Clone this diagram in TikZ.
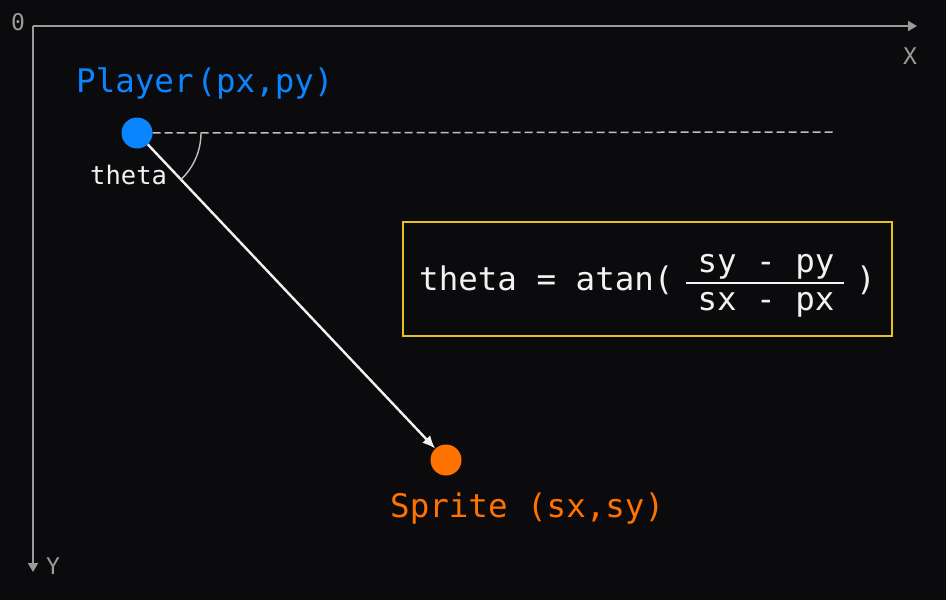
\documentclass[tikz,border=0pt]{standalone}
\usepackage{fontspec}
\usetikzlibrary{arrows.meta,angles}
\newfontfamily\monofam{DejaVu Sans Mono}
\definecolor{bgc}{HTML}{0B0A0C}
\definecolor{axisc}{HTML}{9B9B9B}
\definecolor{pblue}{HTML}{0A85FF}
\definecolor{sorange}{HTML}{FF7200}
\definecolor{ybox}{HTML}{E8C020}
\definecolor{wtext}{HTML}{F2F2F2}
\definecolor{dashc}{HTML}{C0C0C0}
\tikzset{
  axisline/.style={draw=axisc, line width=1.8pt, -{Triangle[length=9pt,width=10pt]}},
  axislabel/.style={text=axisc, inner sep=0, anchor=base west, font=\monofam\fontsize{23}{23}\selectfont},
  pointdot/.style={circle, minimum size=31pt, inner sep=0, draw=none},
  biglabel/.style={inner sep=0, anchor=base west, font=\monofam\fontsize{32.5}{32.5}\selectfont},
  formtext/.style={inner sep=0, text=wtext, font=\monofam\fontsize{32.5}{32.5}\selectfont},
  dashline/.style={draw=dashc, line width=1.5pt, dash pattern=on 8pt off 4pt},
  conn/.style={draw=wtext, line width=2.4pt, -{Latex[length=13pt,width=11pt]}},
  fbox/.style={draw=ybox, line width=2pt, inner sep=0},
}
\begin{document}
\begin{tikzpicture}[x=1pt,y=-1pt]
\fill[bgc] (0,0) rectangle (946,600);
\useasboundingbox (0,0) rectangle (946,600);
% axes
\coordinate (O) at (33,26);
\coordinate (XE) at (917,26);
\coordinate (YE) at (33,572);
\draw[axisline] (O) -- (XE);
\draw[axisline] (O) -- (YE);
\node[axislabel] (zero) at (11,30) {0};
\node[axislabel] (xl) at (903,64) {X};
\node[axislabel] (yl) at (46,574) {Y};
% points
\node[pointdot, fill=pblue] (P) at (137,133) {};
\node[pointdot, fill=sorange] (S) at (446,460) {};
\coordinate (D) at (833,132);
\draw[dashline] (P) -- (D);
\draw[conn] (P) -- (S);
\pic[draw=dashc, line width=1.4pt, angle radius=64pt] {angle = S--P--D};
% labels
\node[biglabel, text=pblue] (pl) at (76,92) {Player\kern3pt(px,py)};
\node[biglabel, text=sorange] (sl) at (390,517) {Sprite (sx,sy)};
\node[inner sep=0, anchor=base west, text=wtext, font=\monofam\fontsize{25.5}{25.5}\selectfont] (th) at (90,184) {theta};
% formula box
\node[fbox, minimum width=489pt, minimum height=114pt] (F) at (647.5,279) {};
\node[formtext, anchor=base west] (f1) at (419,290) {theta = atan(};
\node[formtext, anchor=base] (num) at (766,272) {sy - py};
\node[formtext, anchor=base] (den) at (766,310) {sx - px};
\coordinate (r1) at (686,283);
\coordinate (r2) at (844,283);
\draw[draw=wtext, line width=1.6pt] (r1) -- (r2);
\node[formtext, anchor=base] (cp) at (866,290) {)};
\end{tikzpicture}
\end{document}
